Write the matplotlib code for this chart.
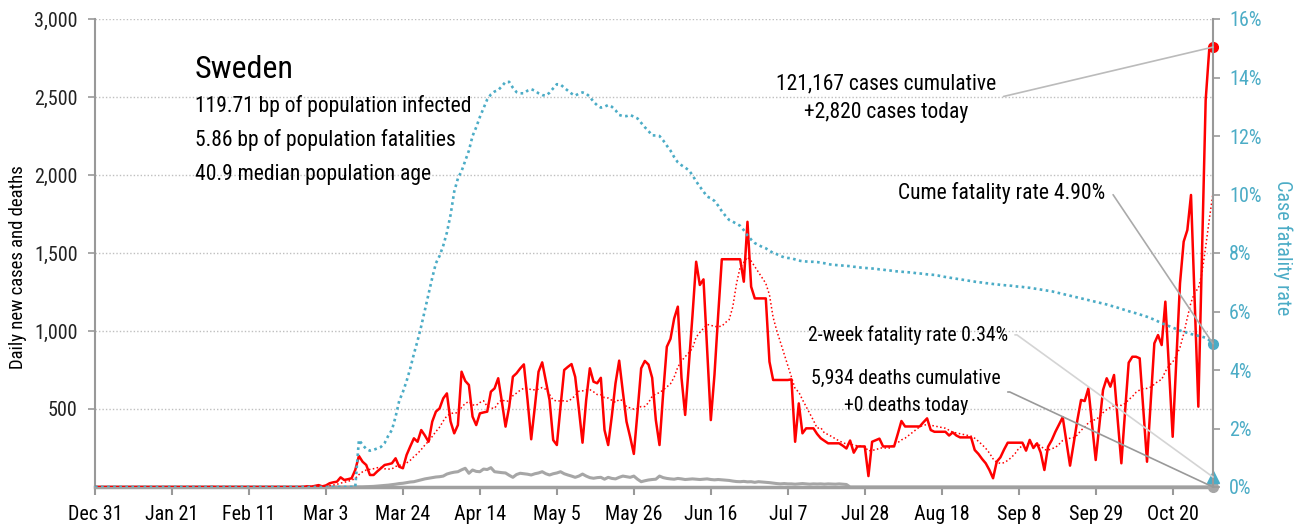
import matplotlib
matplotlib.use('Agg')
import matplotlib.pyplot as plt
import matplotlib.dates as mdates
import matplotlib.font_manager as fm
from matplotlib.ticker import FuncFormatter
import pandas as pd

# pick a narrow sans if one is installed
names = {f.name for f in fm.fontManager.ttflist}
fam = 'DejaVu Sans'
for cand in ['Liberation Sans Narrow', 'Roboto Condensed', 'Open Sans Condensed']:
    if cand in names:
        fam = cand
        break
plt.rcParams['font.family'] = fam
if fam == 'DejaVu Sans':
    plt.rcParams['font.stretch'] = 'condensed'

country = 'Sweden'
start = '2019-12-31'
info_lines = ['119.71 bp of population infected',
              '5.86 bp of population fatalities',
              '40.9 median population age']
total_cases = 121167
total_deaths = 5934
cume_cfr = 4.90
two_week_cfr = 0.34

# daily new cases, Dec 31 onwards
cases = [0] * 32 + [1] + [0] * 24 + [1, 5, 2] + [
    7, 12, 4, 10, 24, 30, 34, 62, 45, 50,
    56, 109, 199, 162, 141, 77, 77, 100, 120, 141,
    146, 152, 184, 130, 120, 205, 260, 312, 290, 365,
    330, 290, 419, 483, 504, 568, 600, 420, 344, 397,
    739, 680, 654, 451, 397, 472, 478, 483, 611, 632,
    697, 547, 387, 515, 707, 729, 760, 786, 558, 306,
    515, 739, 799, 680, 558, 301, 269, 515, 750, 770,
    788, 706, 500, 284, 558, 761, 675, 665, 700, 365,
    269, 456, 665, 810, 611, 419, 320, 212, 480, 761,
    808, 785, 700, 429, 269, 600, 899, 950, 1080, 1156,
    700, 462, 780, 1100, 1444, 1295, 1331, 880, 429, 720,
    1100, 1460, 1460, 1460, 1460, 1460, 1460, 1316, 1700, 1284,
    1209, 1209, 1209, 1209, 803, 686, 686, 686, 686, 686,
    690, 290, 536, 344, 376, 376, 376, 340, 312, 296,
    280, 280, 280, 280, 265, 247, 298, 220, 260, 260,
    260, 70, 290, 300, 310, 260, 260, 260, 260, 340,
    423, 388, 388, 388, 388, 388, 415, 440, 365, 354,
    354, 354, 354, 330, 350, 330, 318, 318, 318, 318,
    237, 212, 180, 152, 109, 56, 162, 190, 240, 284,
    284, 284, 284, 284, 233, 302, 250, 280, 220, 109,
    258, 300, 354, 400, 447, 290, 137, 280, 429, 558,
    551, 632, 400, 173, 400, 622, 697, 643, 718, 430,
    152, 480, 797, 835, 835, 825, 490, 162, 540, 921,
    974, 910, 1188, 750, 322, 814, 1306, 1573, 1647, 1872,
    1190, 515, 1500, 2480, 2814, 2820]

# daily new deaths
deaths = [0] * 70 + [
    1, 1, 1, 1, 2, 3, 4, 6, 8, 10,
    12, 15, 18, 22, 24, 28, 32, 34, 40, 46,
    52, 56, 60, 64, 66, 70, 83, 90, 95, 98,
    110, 120, 88, 109, 100, 98, 115, 112, 124, 98,
    95, 92, 90, 75, 62, 80, 88, 85, 82, 77,
    85, 90, 98, 85, 77, 85, 90, 98, 85, 77,
    70, 62, 70, 83, 70, 60, 56, 60, 62, 50,
    62, 55, 52, 62, 70, 66, 62, 70, 50, 34,
    40, 45, 48, 50, 70, 60, 55, 52, 50, 55,
    52, 48, 50, 52, 50, 48, 50, 52, 48, 46,
    48, 46, 44, 42, 38, 35, 34, 36, 33, 34,
    30, 34, 32, 30, 28, 25, 22, 20, 22, 20,
    20, 18, 20, 22, 20, 18, 20, 19, 20, 18,
    20, 19, 18, 20, 18, 16] + [0] * 100

# cumulative case fatality rate, %
cfr = [0] * 72 + [
    1.61, 1.44, 1.30, 1.24, 1.27, 1.32, 1.37, 1.50, 1.75, 1.95,
    2.40, 2.95, 3.25, 3.62, 4.05, 4.55, 5.00, 5.50, 6.05, 6.60,
    7.15, 7.65, 7.90, 8.25, 8.70, 9.30, 10.10, 10.55, 10.80, 11.15,
    11.50, 12.00, 12.30, 12.65, 12.95, 13.25, 13.42, 13.52, 13.57, 13.70,
    13.85, 13.85, 13.65, 13.50, 13.46, 13.46, 13.55, 13.60, 13.55, 13.46,
    13.40, 13.38, 13.48, 13.63, 13.77, 13.76, 13.65, 13.55, 13.45, 13.38,
    13.45, 13.49, 13.45, 13.34, 13.17, 13.05, 12.97, 13.00, 13.06, 13.00,
    12.88, 12.72, 12.68, 12.68, 12.72, 12.66, 12.60, 12.45, 12.30, 12.17,
    12.02, 12.02, 12.00, 11.85, 11.67, 11.50, 11.28, 11.10, 11.00, 10.92,
    10.83, 10.66, 10.45, 10.27, 10.10, 9.93, 9.87, 9.78, 9.62, 9.43,
    9.27, 9.13, 9.07, 9.00, 8.93, 8.78, 8.60, 8.46, 8.34, 8.27,
    8.21, 8.16, 8.08, 8.00, 7.96, 7.90, 7.85, 7.83, 7.82, 7.78,
    7.74, 7.72, 7.71, 7.70, 7.70, 7.69, 7.67, 7.65, 7.62, 7.60,
    7.59, 7.58, 7.57, 7.56, 7.55, 7.53, 7.52, 7.50, 7.49, 7.48,
    7.47, 7.46, 7.44, 7.43, 7.41, 7.40, 7.38, 7.37, 7.36, 7.35,
    7.34, 7.33, 7.31, 7.30, 7.29, 7.27, 7.26, 7.25, 7.23, 7.20,
    7.18, 7.16, 7.14, 7.12, 7.10, 7.08, 7.06, 7.04, 7.02, 7.00,
    6.99, 6.97, 6.96, 6.94, 6.93, 6.91, 6.90, 6.89, 6.88, 6.86,
    6.85, 6.84, 6.82, 6.81, 6.79, 6.77, 6.75, 6.73, 6.71, 6.69,
    6.66, 6.63, 6.60, 6.57, 6.54, 6.51, 6.48, 6.45, 6.42, 6.39,
    6.36, 6.33, 6.30, 6.27, 6.24, 6.20, 6.17, 6.13, 6.09, 6.05,
    6.01, 5.97, 5.94, 5.90, 5.86, 5.82, 5.77, 5.72, 5.66, 5.60,
    5.55, 5.50, 5.45, 5.40, 5.35, 5.31, 5.27, 5.23, 5.20, 5.17,
    5.14, 5.10, 5.02, 4.90]

dates = pd.date_range(start, periods=len(cases))
last = mdates.date2num(dates[-1])
red = '#ff0000'
grey = '#a6a6a6'
blue = '#4bacc6'

fig = plt.figure(figsize=(13.07, 5.26), dpi=100)
ax = fig.add_axes([95 / 1307, 39 / 526, 1118 / 1307, 468 / 526])

ma = pd.Series(cases).rolling(7, min_periods=1).mean()
ax.plot(dates, cases, color=red, lw=1.8, zorder=3)
ax.plot(dates, ma, color=red, lw=1.1, ls=(0, (1, 1.6)), zorder=3)
ax.plot(dates, deaths, color=grey, lw=2.2, zorder=2)
ax.plot(dates[-1], cases[-1], 'o', color=red, ms=7, clip_on=False, zorder=5)
ax.plot(dates[-1], deaths[-1], 'o', color=grey, ms=7, clip_on=False, zorder=5)

ax.set_xlim(dates[0], dates[-1])
ax.set_ylim(0, 3000)
ax.set_yticks(range(500, 3001, 500))
ax.yaxis.set_major_formatter(FuncFormatter(lambda v, p: f'{int(v):,}'))
ax.grid(axis='y', color='#bfbfbf', ls=(0, (1, 1.5)), lw=1)
xt = pd.date_range(start, dates[-1], freq='21D')
ax.set_xticks(xt)
ax.set_xticklabels([f"{d.strftime('%b')} {d.day}" for d in xt])
ax.tick_params(axis='x', length=6, width=1.5, color='#999999', pad=7, labelsize=14.5)
ax.tick_params(axis='y', length=5, width=1.2, color='#999999', pad=7.5,
               labelsize=14.5, labelcolor='#222222')
for s in ['top', 'right']:
    ax.spines[s].set_visible(False)
ax.spines['left'].set_color('#999999')
ax.spines['left'].set_linewidth(1.5)
ax.spines['bottom'].set_color('#a0a0a0')
ax.spines['bottom'].set_linewidth(2.5)
ax.set_ylabel('Daily new cases and deaths', fontsize=13.5)
ax.yaxis.set_label_coords(-0.0608, 0.47)

ax2 = ax.twinx()
ax2.plot(dates, cfr, color=blue, lw=1.9, ls=(0, (1, 1.3)))
ax2.plot(dates[-1], cfr[-1], 'o', color=blue, ms=7, clip_on=False)
ax2.plot(dates[-1], two_week_cfr, '^', color=blue, ms=8, clip_on=False)
ax2.set_ylim(0, 16)
ax2.set_yticks(range(0, 17, 2))
ax2.yaxis.set_major_formatter(FuncFormatter(lambda v, p: f'{int(v)}%'))
ax2.tick_params(axis='y', length=5, width=1.2, color='#999999', pad=6.5,
                labelsize=14.5, labelcolor=blue)
for s in ['top', 'left', 'bottom']:
    ax2.spines[s].set_visible(False)
ax2.spines['right'].set_color('#999999')
ax2.spines['right'].set_linewidth(1.5)
ax2.set_ylabel('Case fatality rate', color=blue, fontsize=14.5, rotation=270, va='bottom')
ax2.yaxis.set_label_coords(1.0535, 0.512)

# headline block
ax2.text(0.0894, 0.874, country, transform=ax.transAxes, fontsize=23, va='baseline')
for i, line in enumerate(info_lines):
    ax2.text(0.0894, 0.814 - i * 0.0735, line, transform=ax.transAxes,
             fontsize=15.5, va='center')

# call-outs for the latest values
ax2.annotate(f'{total_cases:,} cases cumulative\n+{cases[-1]:,} cases today',
             xy=(last, cases[-1]), xycoords=ax.transData,
             xytext=(0.708, 0.831), textcoords='axes fraction',
             ha='center', va='center', fontsize=15.5, linespacing=1.47,
             arrowprops=dict(arrowstyle='-', color='#bbbbbb', lw=1.2,
                             relpos=(1, 0.5), shrinkA=3, shrinkB=0))
ax2.annotate(f'Cume fatality rate {cume_cfr:.2f}%',
             xy=(last, cfr[-1]),
             xytext=(0.9034, 0.628), textcoords='axes fraction',
             ha='right', va='center', fontsize=15.5,
             arrowprops=dict(arrowstyle='-', color='#aaaaaa', lw=1.2,
                             relpos=(1, 0.5), shrinkA=4, shrinkB=0,
                             connectionstyle='arc,angleA=0,armA=7,angleB=0,armB=0,rad=0'))
ax2.annotate(f'2-week fatality rate {two_week_cfr:.2f}%',
             xy=(last, two_week_cfr),
             xytext=(0.8166, 0.325), textcoords='axes fraction',
             ha='right', va='center', fontsize=14.2,
             arrowprops=dict(arrowstyle='-', color='#d4d4d4', lw=1.2,
                             relpos=(1, 0.5), shrinkA=3, shrinkB=0,
                             connectionstyle='arc,angleA=0,armA=9,angleB=0,armB=0,rad=0'))
ax2.annotate(f'{total_deaths:,} deaths cumulative\n+{deaths[-1]} deaths today',
             xy=(last, deaths[-1]), xycoords=ax.transData,
             xytext=(0.7254, 0.203), textcoords='axes fraction',
             ha='center', va='center', fontsize=14.2, linespacing=1.55,
             arrowprops=dict(arrowstyle='-', color='#999999', lw=1.2,
                             relpos=(1, 0.5), shrinkA=3, shrinkB=0,
                             connectionstyle='arc,angleA=0,armA=9,angleB=0,armB=0,rad=0'))

fig.savefig('out.png', dpi=100)
